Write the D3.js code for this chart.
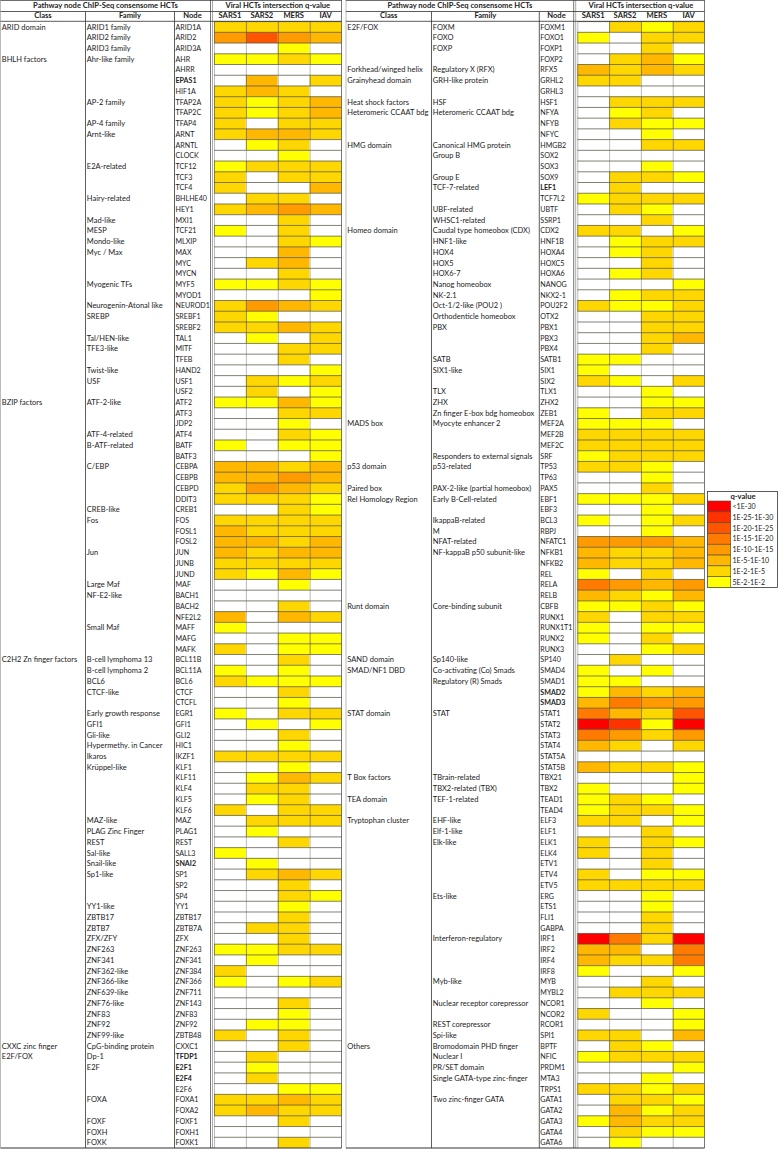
<!DOCTYPE html>
<html>
<head>
<meta charset="utf-8">
<script src="https://cdn.jsdelivr.net/npm/d3@7"></script>
<style>
  html, body { margin: 0; padding: 0; background: #fff; }
  svg { display: block; }
  text { font-family: Lato, "Open Sans", sans-serif; fill: #222; }
</style>
</head>
<body>
<div id="chart"></div>
<script>
// levels: 0 = not significant, 1..8 = index into legendLabels counted from the bottom
var viruses = ["SARS1", "SARS2", "MERS", "IAV"];
var legendLabels = ["<1E-30", "1E-25-1E-30", "1E-20-1E-25", "1E-15-1E-20", "1E-10-1E-15", "1E-5-1E-10", "1E-2-1E-5", "5E-2-1E-2"];
var legendColors = ["#ff0000", "#ff3300", "#ff5500", "#ff7a00", "#ff9a00", "#ffb700", "#ffd700", "#ffff00"];
var boldNodes = ["EPAS1", "SNAI2", "TFDP1", "E2F1", "E2F4", "LEF1", "SMAD2", "SMAD3"];

var leftNodes = ["ARID1A","ARID2","ARID3A","AHR","AHRR","EPAS1","HIF1A","TFAP2A","TFAP2C","TFAP4","ARNT","ARNTL","CLOCK","TCF12","TCF3","TCF4","BHLHE40","HEY1","MXI1","TCF21","MLXIP","MAX","MYC","MYCN","MYF5","MYOD1","NEUROD1","SREBF1","SREBF2","TAL1","MITF","TFEB","HAND2","USF1","USF2","ATF2","ATF3","JDP2","ATF4","BATF","BATF3","CEBPA","CEBPB","CEBPD","DDIT3","CREB1","FOS","FOSL1","FOSL2","JUN","JUNB","JUND","MAF","BACH1","BACH2","NFE2L2","MAFF","MAFG","MAFK","BCL11B","BCL11A","BCL6","CTCF","CTCFL","EGR1","GFI1","GLI2","HIC1","IKZF1","KLF1","KLF11","KLF4","KLF5","KLF6","MAZ","PLAG1","REST","SALL3","SNAI2","SP1","SP2","SP4","YY1","ZBTB17","ZBTB7A","ZFX","ZNF263","ZNF341","ZNF384","ZNF366","ZNF711","ZNF143","ZNF83","ZNF92","ZBTB48","CXXC1","TFDP1","E2F1","E2F4","E2F6","FOXA1","FOXA2","FOXF1","FOXH1","FOXK1"];
var leftSars1 = [2,4,0,1,0,0,2,2,2,2,2,0,0,1,2,2,0,2,0,1,0,0,0,0,1,0,2,2,2,0,0,0,0,0,0,1,0,0,0,1,0,3,3,2,2,0,2,3,3,3,2,2,0,0,0,3,1,0,2,0,1,2,0,0,1,0,0,0,2,0,0,0,0,2,0,0,0,1,0,0,0,0,0,0,0,0,1,0,2,1,0,0,0,0,2,0,0,0,0,0,2,2,0,0,0];
var leftSars2 = [2,6,0,1,0,3,3,1,1,0,3,1,0,2,0,0,2,3,0,0,0,0,2,0,1,0,4,1,2,1,0,0,0,2,2,1,0,0,0,0,0,3,3,4,2,0,2,2,3,2,2,1,0,0,0,0,0,0,0,0,0,1,0,0,0,1,0,0,2,0,1,2,1,0,2,1,0,0,1,2,0,0,0,0,2,0,1,1,0,0,0,0,0,1,0,0,2,1,2,0,2,3,0,0,0];
var leftMers = [2,4,1,2,0,0,2,2,2,2,3,2,1,2,2,0,2,4,2,2,2,3,3,2,2,0,3,0,3,0,2,2,0,1,0,3,2,1,2,1,0,2,4,3,2,2,2,2,2,3,2,3,1,0,2,3,0,1,1,2,1,1,2,1,2,0,2,1,2,1,3,2,2,2,2,0,2,0,0,3,2,2,1,2,2,2,2,0,0,1,0,2,1,1,2,2,0,0,0,1,3,2,2,0,2];
var leftIav = [2,3,0,1,0,2,0,3,3,2,2,0,0,2,2,3,0,3,0,0,1,0,0,0,1,1,2,0,2,2,2,0,1,2,1,1,2,0,1,1,1,3,3,2,1,1,2,2,3,3,2,1,0,0,0,2,0,1,1,0,0,1,0,0,2,1,0,0,2,0,2,0,0,2,2,0,0,0,0,2,0,1,0,0,0,0,2,0,0,2,0,0,0,0,0,0,0,0,0,1,2,2,0,0,0];
var leftClasses = [["ARID domain","ARID1A"],["BHLH factors","AHR"],["BZIP factors","ATF2"],["C2H2 Zn finger factors","BCL11B"],["CXXC zinc finger","CXXC1"],["E2F/FOX","TFDP1"]];
var leftFamilies = [["ARID1 family","ARID1A"],["ARID2 family","ARID2"],["ARID3 family","ARID3A"],["Ahr-like family","AHR"],["AP-2 family","TFAP2A"],["AP-4 family","TFAP4"],["Arnt-like","ARNT"],["E2A-related","TCF12"],["Hairy-related","BHLHE40"],["Mad-like","MXI1"],["MESP","TCF21"],["Mondo-like","MLXIP"],["Myc / Max","MAX"],["Myogenic TFs","MYF5"],["Neurogenin-Atonal like","NEUROD1"],["SREBP","SREBF1"],["Tal/HEN-like","TAL1"],["TFE3-like","MITF"],["Twist-like","HAND2"],["USF","USF1"],["ATF-2-like","ATF2"],["ATF-4-related","ATF4"],["B-ATF-related","BATF"],["C/EBP","CEBPA"],["CREB-like","CREB1"],["Fos","FOS"],["Jun","JUN"],["Large Maf","MAF"],["NF-E2-like","BACH1"],["Small Maf","MAFF"],["B-cell lymphoma 13","BCL11B"],["B-cell lymphoma 2","BCL11A"],["BCL6","BCL6"],["CTCF-like","CTCF"],["Early growth response","EGR1"],["GFI1","GFI1"],["Gli-like","GLI2"],["Hypermethy. in Cancer","HIC1"],["Ikaros","IKZF1"],["Krüppel-like","KLF1"],["MAZ-like","MAZ"],["PLAG Zinc Finger","PLAG1"],["REST","REST"],["Sal-like","SALL3"],["Snail-like","SNAI2"],["Sp1-like","SP1"],["YY1-like","YY1"],["ZBTB17","ZBTB17"],["ZBTB7","ZBTB7A"],["ZFX/ZFY","ZFX"],["ZNF263","ZNF263"],["ZNF341","ZNF341"],["ZNF362-like","ZNF384"],["ZNF366-like","ZNF366"],["ZNF639-like","ZNF711"],["ZNF76-like","ZNF143"],["ZNF83","ZNF83"],["ZNF92","ZNF92"],["ZNF99-like","ZBTB48"],["CpG-binding protein","CXXC1"],["Dp-1","TFDP1"],["E2F","E2F1"],["FOXA","FOXA1"],["FOXF","FOXF1"],["FOXH","FOXH1"],["FOXK","FOXK1"]];

var rightNodes = ["FOXM1","FOXO1","FOXP1","FOXP2","RFX5","GRHL2","GRHL3","HSF1","NFYA","NFYB","NFYC","HMGB2","SOX2","SOX3","SOX9","LEF1","TCF7L2","UBTF","SSRP1","CDX2","HNF1B","HOXA4","HOXC5","HOXA6","NANOG","NKX2-1","POU2F2","OTX2","PBX1","PBX3","PBX4","SATB1","SIX1","SIX2","TLX1","ZHX2","ZEB1","MEF2A","MEF2B","MEF2C","SRF","TP53","TP63","PAX5","EBF1","EBF3","BCL3","RBPJ","NFATC1","NFKB1","NFKB2","REL","RELA","RELB","CBFB","RUNX1","RUNX1T1","RUNX2","RUNX3","SP140","SMAD4","SMAD1","SMAD2","SMAD3","STAT1","STAT2","STAT3","STAT4","STAT5A","STAT5B","TBX21","TBX2","TEAD1","TEAD4","ELF3","ELF1","ELK1","ELK4","ETV1","ETV4","ETV5","ERG","ETS1","FLI1","GABPA","IRF1","IRF2","IRF4","IRF8","MYB","MYBL2","NCOR1","NCOR2","RCOR1","SPI1","BPTF","NFIC","PRDM1","MTA3","TRPS1","GATA1","GATA2","GATA3","GATA4","GATA6"];
var rightSars1 = [0,1,0,0,3,2,0,0,0,0,0,0,0,0,0,0,1,0,0,2,0,0,0,0,0,0,2,0,0,0,0,1,1,2,0,0,1,1,2,2,1,2,0,0,1,0,1,0,4,3,3,1,5,3,1,2,1,1,0,0,1,1,1,3,5,8,5,3,0,3,0,1,1,1,2,0,2,2,0,2,2,0,0,0,0,8,3,3,1,0,0,0,2,0,2,0,1,0,0,2,0,0,1,0,0];
var rightSars2 = [2,0,0,2,2,2,0,2,1,2,0,0,0,0,2,2,2,2,0,2,1,1,0,1,0,1,1,0,0,0,0,1,0,1,0,0,0,1,2,2,2,2,0,0,1,0,0,0,4,2,2,0,4,2,1,0,0,0,0,2,0,1,3,5,3,7,4,2,0,2,0,0,2,2,2,0,0,0,0,0,2,0,0,0,0,5,3,2,0,0,2,0,0,0,2,2,2,0,0,2,2,3,3,2,1];
var rightMers = [1,2,2,3,3,0,0,2,2,1,1,2,0,1,2,0,2,1,2,0,2,2,2,2,0,2,1,2,2,2,2,0,0,0,1,1,2,1,2,2,2,1,1,2,1,1,1,1,4,2,2,2,3,1,2,2,1,2,1,0,1,0,2,4,2,1,2,0,0,2,0,0,1,2,0,2,2,2,2,1,2,1,1,2,2,2,0,2,0,2,2,1,0,0,0,1,2,0,1,1,2,1,2,1,0];
var rightIav = [2,2,0,1,2,0,0,2,0,1,0,2,0,0,1,0,2,0,0,1,2,0,0,0,1,2,2,2,2,3,0,0,0,2,0,1,2,0,2,2,2,0,0,0,2,0,2,0,3,3,3,0,4,3,1,2,1,0,2,0,0,0,3,4,6,8,4,2,0,1,1,1,0,1,1,0,1,0,0,1,2,0,0,0,0,8,5,5,1,0,2,0,1,1,3,0,2,1,0,2,1,2,2,1,0];
var rightClasses = [["E2F/FOX","FOXM1"],["Forkhead/winged helix","RFX5"],["Grainyhead domain","GRHL2"],["Heat shock factors","HSF1"],["Heteromeric CCAAT bdg","NFYA"],["HMG domain","HMGB2"],["Homeo domain","CDX2"],["MADS box","MEF2A"],["p53 domain","TP53"],["Paired box","PAX5"],["Rel Homology Region","EBF1"],["Runt domain","CBFB"],["SAND domain","SP140"],["SMAD/NF1 DBD","SMAD4"],["STAT domain","STAT1"],["T Box factors","TBX21"],["TEA domain","TEAD1"],["Tryptophan cluster","ELF3"],["Others","BPTF"]];
var rightFamilies = [["FOXM","FOXM1"],["FOXO","FOXO1"],["FOXP","FOXP1"],["Regulatory X (RFX)","RFX5"],["GRH-like protein","GRHL2"],["HSF","HSF1"],["Heteromeric CCAAT bdg","NFYA"],["Canonical HMG protein","HMGB2"],["Group B","SOX2"],["Group E","SOX9"],["TCF-7-related","LEF1"],["UBF-related","UBTF"],["WHSC1-related","SSRP1"],["Caudal type homeobox (CDX)","CDX2"],["HNF1-like","HNF1B"],["HOX4","HOXA4"],["HOX5","HOXC5"],["HOX6-7","HOXA6"],["Nanog homeobox","NANOG"],["NK-2.1","NKX2-1"],["Oct-1/2-like (POU2 )","POU2F2"],["Orthodenticle homeobox","OTX2"],["PBX","PBX1"],["SATB","SATB1"],["SIX1-like","SIX1"],["TLX","TLX1"],["ZHX","ZHX2"],["Zn finger E-box bdg homeobox","ZEB1"],["Myocyte enhancer 2","MEF2A"],["Responders to external signals","SRF"],["p53-related","TP53"],["PAX-2-like (partial homeobox)","PAX5"],["Early B-Cell-related","EBF1"],["IkappaB-related","BCL3"],["M","RBPJ"],["NFAT-related","NFATC1"],["NF-kappaB p50 subunit-like","NFKB1"],["Core-binding subunit","CBFB"],["Sp140-like","SP140"],["Co-activating (Co) Smads","SMAD4"],["Regulatory (R) Smads","SMAD1"],["STAT","STAT1"],["TBrain-related","TBX21"],["TBX2-related (TBX)","TBX2"],["TEF-1-related","TEAD1"],["EHF-like","ELF3"],["Elf-1-like","ELF1"],["Elk-like","ELK1"],["Ets-like","ERG"],["Interferon-regulatory","IRF1"],["Myb-like","MYB"],["Nuclear receptor corepressor","NCOR1"],["REST corepressor","RCOR1"],["Spi-like","SPI1"],["Bromodomain PHD finger","BPTF"],["Nuclear I","NFIC"],["PR/SET domain","PRDM1"],["Single GATA-type zinc-finger","MTA3"],["Two zinc-finger GATA","GATA1"]];

var width = 778, height = 1149;
var rowTop = 21.6, rowBottom = 1148;
var titleSize = 7.6, textSize = 7.5, nodeSize = 7.1;

var svg = d3.select("#chart").append("svg")
    .attr("width", width)
    .attr("height", height)
    .attr("viewBox", `0 0 ${width} ${height}`);

var color = d3.scaleOrdinal()
    .domain([0, 8, 7, 6, 5, 4, 3, 2, 1])
    .range(["#ffffff"].concat(legendColors));

// #############################################################################
function drawPanel(x0, xFamily, xNode, xEnd, xHeat, xHeatEnd, nodes, values, classes, families)
{
    var g = svg.append("g");
    var y = d3.scaleBand().domain(nodes).range([rowTop, rowBottom]);
    var x = d3.scaleBand().domain(viruses).range([xHeat, xHeatEnd]);

    var rows = nodes.map(function(n, i) {
        return { node: n, cells: viruses.map(function(v, j) { return { virus: v, level: values[j][i] }; }) };
    });

    // cells
    var row = g.selectAll("g.row")
        .data(rows)
        .enter().append("g")
        .attr("class", "row")
        .attr("transform", function(d) { return `translate(0,${y(d.node)})`; });

    row.selectAll("rect")
        .data(function(d) { return d.cells; })
        .enter().append("rect")
        .attr("x", function(d) { return x(d.virus); })
        .attr("width", x.bandwidth())
        .attr("height", y.bandwidth())
        .attr("fill", function(d) { return color(d.level); });

    // grid over the cells: white cells get a soft grey side edge
    row.selectAll("line")
        .data(function(d) { return d.cells; })
        .enter().append("line")
        .attr("x1", function(d) { return x(d.virus) + 0.5; })
        .attr("x2", function(d) { return x(d.virus) + 0.5; })
        .attr("y1", 0)
        .attr("y2", y.bandwidth())
        .attr("stroke", function(d) { return d.level ? "#7a6a20" : "#aaaaaa"; })
        .attr("stroke-width", 0.8);

    g.selectAll("line.hline")
        .data(nodes)
        .enter().append("line")
        .attr("class", "hline")
        .attr("x1", xHeat)
        .attr("x2", xHeatEnd)
        .attr("y1", function(d) { return y(d); })
        .attr("y2", function(d) { return y(d); })
        .attr("stroke", "#4a4a3a")
        .attr("stroke-width", 0.7);

    // labels
    var textY = function(n) { return y(n) + y.bandwidth() / 2 + 2.6; };

    g.selectAll("text.node")
        .data(nodes)
        .enter().append("text")
        .attr("class", "node")
        .attr("x", xNode + 1)
        .attr("y", textY)
        .attr("font-size", nodeSize)
        .attr("font-weight", function(d) { return boldNodes.indexOf(d) >= 0 ? "bold" : "normal"; })
        .text(function(d) { return d; });

    g.selectAll("text.family")
        .data(families)
        .enter().append("text")
        .attr("class", "family")
        .attr("x", xFamily + 1.3)
        .attr("y", function(d) { return textY(d[1]); })
        .attr("font-size", textSize)
        .text(function(d) { return d[0]; });

    g.selectAll("text.klass")
        .data(classes)
        .enter().append("text")
        .attr("class", "klass")
        .attr("x", x0 + 1.3)
        .attr("y", function(d) { return textY(d[1]); })
        .attr("font-size", textSize)
        .text(function(d) { return d[0]; });

    // header titles
    g.append("text")
        .attr("x", (x0 + xEnd) / 2)
        .attr("y", 7.6)
        .attr("text-anchor", "middle")
        .attr("font-size", titleSize)
        .attr("font-weight", "bold")
        .text("Pathway node ChIP-Seq consensome HCTs");

    g.append("text")
        .attr("x", (xHeat + xHeatEnd) / 2)
        .attr("y", 7.6)
        .attr("text-anchor", "middle")
        .attr("font-size", titleSize)
        .attr("font-weight", "bold")
        .text("Viral HCTs intersection q-value");

    var heads = [["Class", (x0 + xFamily) / 2], ["Family", (xFamily + xNode) / 2], ["Node", (xNode + xEnd) / 2]];
    g.selectAll("text.head")
        .data(heads)
        .enter().append("text")
        .attr("class", "head")
        .attr("x", function(d) { return d[1]; })
        .attr("y", 18.4)
        .attr("text-anchor", "middle")
        .attr("font-size", titleSize)
        .attr("font-weight", "bold")
        .text(function(d) { return d[0]; });

    g.selectAll("text.vhead")
        .data(viruses)
        .enter().append("text")
        .attr("class", "vhead")
        .attr("x", function(d) { return x(d) + x.bandwidth() / 2; })
        .attr("y", 18.4)
        .attr("text-anchor", "middle")
        .attr("font-size", titleSize)
        .attr("font-weight", "bold")
        .text(function(d) { return d; });

    // frame lines
    var vlines = [[xFamily, "#333"], [xNode, "#333"]];
    g.selectAll("line.vline")
        .data(vlines)
        .enter().append("line")
        .attr("class", "vline")
        .attr("x1", function(d) { return d[0]; })
        .attr("x2", function(d) { return d[0]; })
        .attr("y1", 11.5)
        .attr("y2", rowBottom)
        .attr("stroke", function(d) { return d[1]; })
        .attr("stroke-width", 0.8);

    g.append("line").attr("x1", xEnd).attr("x2", xEnd).attr("y1", 0).attr("y2", rowBottom)
        .attr("stroke", "#777").attr("stroke-width", 1);
    g.append("line").attr("x1", xEnd + 2).attr("x2", xEnd + 2).attr("y1", 0).attr("y2", rowBottom)
        .attr("stroke", "#aaa").attr("stroke-width", 1);
    g.append("line").attr("x1", xHeatEnd).attr("x2", xHeatEnd).attr("y1", 0).attr("y2", rowBottom)
        .attr("stroke", "#555").attr("stroke-width", 0.8);
    g.append("line").attr("x1", x0).attr("x2", x0).attr("y1", 0).attr("y2", rowBottom)
        .attr("stroke", "#bbb").attr("stroke-width", 1);

    [0.4, 11.5, 21.3, rowBottom].forEach(function(yy) {
        g.append("line").attr("x1", x0).attr("x2", xHeatEnd).attr("y1", yy).attr("y2", yy)
            .attr("stroke", "#333").attr("stroke-width", yy === rowBottom ? 1.2 : 0.8);
    });
}
// #############################################################################

drawPanel(0.5, 85.5, 174.5, 210.5, 214, 341.5, leftNodes,
          [leftSars1, leftSars2, leftMers, leftIav], leftClasses, leftFamilies);
drawPanel(346, 431.5, 539.3, 573.7, 577.3, 704.5, rightNodes,
          [rightSars1, rightSars2, rightMers, rightIav], rightClasses, rightFamilies);

// #############################################################################
// legend
var legendY = d3.scaleBand().domain(legendLabels).range([501, 587.5]);
var legend = svg.append("g");

legend.append("rect")
    .attr("x", 707.5).attr("y", 491.5)
    .attr("width", 70).attr("height", 96)
    .attr("fill", "#fff").attr("stroke", "#333").attr("stroke-width", 0.8);

legend.append("text")
    .attr("x", 743).attr("y", 498.8)
    .attr("text-anchor", "middle")
    .attr("font-size", titleSize)
    .attr("font-weight", "bold")
    .text("q-value");

legend.selectAll("rect.swatch")
    .data(legendLabels)
    .enter().append("rect")
    .attr("class", "swatch")
    .attr("x", 707.5)
    .attr("y", function(d) { return legendY(d); })
    .attr("width", 23.2)
    .attr("height", legendY.bandwidth())
    .attr("fill", function(d, i) { return legendColors[i]; })
    .attr("stroke", "#4a4a3a")
    .attr("stroke-width", 0.6);

legend.selectAll("text.entry")
    .data(legendLabels)
    .enter().append("text")
    .attr("class", "entry")
    .attr("x", 732.5)
    .attr("y", function(d) { return legendY(d) + legendY.bandwidth() / 2 + 2.6; })
    .attr("font-size", nodeSize)
    .text(function(d) { return d; });
</script>
</body>
</html>
